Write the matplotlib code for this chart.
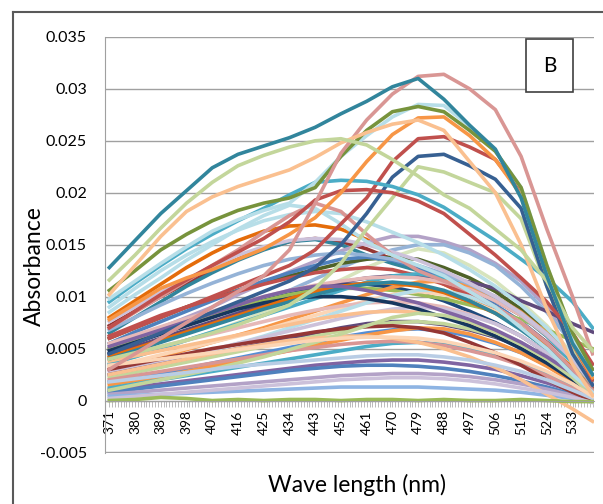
import matplotlib
matplotlib.use("Agg")
import matplotlib.pyplot as plt
from matplotlib.lines import Line2D
from matplotlib.patches import Rectangle
import numpy as np

plt.rcParams['font.family'] = ['Lato', 'DejaVu Sans']

# wavelength sample points (nm)
wavelength = [371, 380, 389, 398, 407, 416, 425, 434, 443, 452,
              461, 470, 479, 488, 497, 506, 515, 524, 533, 540]

x_tick_values = [371, 380, 389, 398, 407, 416, 425, 434, 443, 452,
                 461, 470, 479, 488, 497, 506, 515, 524, 533]
y_tick_values = [-0.005, 0, 0.005, 0.01, 0.015, 0.02, 0.025, 0.03, 0.035]
y_tick_labels = ['-0.005', '0', '0.005', '0.01', '0.015', '0.02', '0.025', '0.03', '0.035']

# absorbance x 1000, lower spectra first
s01 = [7.2, 8.6, 10.0, 11.3, 12.5, 13.6, 14.6, 15.3, 15.6, 15.3, 14.6, 13.6, 12.8, 11.8, 10.8, 9.6, 8.2, 6.2, 3.8, 1.8]
s02 = [8.0, 9.6, 11.2, 12.8, 14.2, 15.4, 16.3, 16.8, 16.9, 16.5, 15.5, 14.0, 12.5, 11.2, 10.0, 8.8, 7.2, 5.2, 3.0, 1.2]
s03 = [6.5, 8.0, 9.5, 11.0, 12.3, 13.5, 14.5, 15.3, 15.5, 15.0, 14.0, 13.2, 12.5, 11.5, 10.2, 9.0, 7.5, 5.5, 3.2, 1.5]
s04 = [5.0, 6.0, 7.0, 8.0, 9.0, 10.2, 11.3, 12.4, 13.4, 14.4, 15.2, 15.8, 15.8, 15.3, 14.5, 13.2, 11.5, 9.0, 6.0, 3.0]
s05 = [4.2, 5.0, 5.8, 6.6, 7.5, 8.5, 9.5, 10.6, 11.7, 12.8, 13.8, 14.5, 15.0, 15.0, 14.2, 13.0, 11.0, 8.5, 5.5, 2.5]
s06 = [3.5, 4.2, 5.0, 5.8, 6.6, 7.5, 8.5, 9.5, 10.5, 11.6, 12.8, 13.8, 14.6, 14.2, 13.0, 11.5, 9.5, 7.2, 4.5, 1.8]
s07 = [6.0, 7.0, 8.0, 9.0, 9.8, 10.6, 11.4, 12.0, 12.6, 13.2, 13.6, 13.8, 13.6, 12.8, 11.8, 10.5, 8.8, 6.8, 4.2, 1.8]
s08 = [5.5, 6.6, 7.6, 8.6, 9.6, 10.6, 11.5, 12.3, 13.0, 13.6, 13.8, 13.5, 12.8, 11.8, 10.6, 9.2, 7.6, 5.6, 3.4, 1.4]
s09 = [6.2, 7.2, 8.2, 9.0, 9.8, 10.5, 11.2, 11.8, 12.3, 12.6, 12.8, 12.6, 12.0, 11.2, 10.2, 9.0, 7.5, 5.6, 3.4, 1.2]
s10 = [4.5, 5.5, 6.5, 7.4, 8.2, 9.0, 9.8, 10.4, 10.9, 11.2, 11.2, 10.9, 10.4, 9.6, 8.6, 7.5, 6.2, 4.6, 2.8, 1.0]
s11 = [4.5, 5.2, 6.0, 6.8, 7.6, 8.4, 9.2, 10.0, 10.8, 11.4, 11.8, 12.0, 12.0, 11.8, 11.4, 10.8, 9.6, 8.6, 7.4, 6.6]
s12 = [5.0, 5.8, 6.6, 7.4, 8.2, 9.0, 9.6, 10.2, 10.6, 10.8, 10.8, 10.6, 10.2, 9.8, 9.2, 8.6, 7.8, 6.8, 5.8, 5.0]
s13 = [3.5, 4.2, 5.0, 5.8, 6.6, 7.4, 8.2, 9.0, 9.8, 10.6, 11.4, 12.0, 12.2, 11.8, 11.0, 9.8, 8.2, 6.2, 3.6, 1.5]
s14 = [3.0, 3.6, 4.2, 4.9, 5.6, 6.3, 7.0, 7.8, 8.6, 9.4, 10.2, 10.9, 11.4, 11.5, 11.0, 10.0, 8.5, 6.5, 4.0, 1.5]
s15 = [3.2, 3.8, 4.4, 5.0, 5.6, 6.2, 6.8, 7.5, 8.2, 8.9, 9.6, 10.2, 10.5, 10.2, 9.6, 8.6, 7.2, 5.4, 3.2, 1.0]
s16 = [4.0, 4.6, 5.2, 5.8, 6.4, 7.0, 7.6, 8.2, 8.7, 9.1, 9.4, 9.5, 9.4, 9.0, 8.3, 7.4, 6.2, 4.6, 2.8, 0.8]
s17 = [2.5, 3.0, 3.6, 4.2, 4.8, 5.5, 6.2, 7.0, 7.8, 8.6, 9.4, 10.1, 10.6, 10.6, 10.0, 9.0, 7.5, 5.5, 3.2, 1.0]
s18 = [2.8, 3.3, 3.8, 4.3, 4.9, 5.5, 6.1, 6.7, 7.3, 7.9, 8.4, 8.8, 9.0, 8.8, 8.2, 7.4, 6.2, 4.6, 2.8, 1.0]
s19 = [3.8, 4.3, 4.8, 5.3, 5.8, 6.3, 6.8, 7.3, 7.8, 8.2, 8.5, 8.6, 8.5, 8.1, 7.5, 6.6, 5.5, 4.0, 2.4, 0.8]
s20 = [2.5, 3.0, 3.5, 4.0, 4.5, 5.0, 5.5, 6.0, 6.5, 7.0, 7.4, 7.6, 7.6, 7.3, 6.8, 6.1, 5.2, 3.8, 2.2, 0.6]
s21 = [2.2, 2.7, 3.2, 3.7, 4.2, 4.7, 5.2, 5.7, 6.2, 6.7, 7.2, 7.5, 7.6, 7.4, 6.9, 6.2, 5.2, 3.8, 2.2, 0.5]
s22 = [1.8, 2.2, 2.6, 3.1, 3.6, 4.1, 4.6, 5.1, 5.6, 6.1, 6.5, 6.8, 6.9, 6.7, 6.2, 5.5, 4.6, 3.4, 2.0, 0.4]
s23 = [1.5, 1.9, 2.3, 2.8, 3.3, 3.8, 4.3, 4.8, 5.3, 5.8, 6.3, 6.7, 7.0, 6.9, 6.4, 5.6, 4.6, 3.3, 1.8, 0.4]
s24 = [1.2, 1.6, 2.0, 2.4, 2.8, 3.2, 3.6, 4.0, 4.4, 4.8, 5.2, 5.5, 5.6, 5.4, 5.0, 4.4, 3.6, 2.6, 1.4, 0.3]
s25 = [2.0, 2.4, 2.8, 3.2, 3.6, 4.0, 4.4, 4.8, 5.1, 5.4, 5.6, 5.7, 5.6, 5.3, 4.8, 4.2, 3.4, 2.4, 1.2, 0.2]
s26 = [1.0, 1.3, 1.6, 1.9, 2.2, 2.5, 2.8, 3.1, 3.4, 3.6, 3.8, 3.9, 3.9, 3.7, 3.4, 3.0, 2.4, 1.7, 0.9, 0.1]
s27 = [0.8, 1.1, 1.4, 1.7, 2.0, 2.3, 2.6, 2.9, 3.1, 3.3, 3.4, 3.4, 3.3, 3.1, 2.8, 2.4, 1.9, 1.3, 0.6, 0.0]
s28 = [0.6, 0.8, 1.0, 1.2, 1.4, 1.6, 1.8, 2.0, 2.2, 2.4, 2.5, 2.6, 2.6, 2.5, 2.3, 2.0, 1.6, 1.1, 0.5, 0.0]
s29 = [0.4, 0.5, 0.6, 0.7, 0.8, 0.9, 1.0, 1.1, 1.2, 1.3, 1.3, 1.3, 1.3, 1.2, 1.1, 1.0, 0.8, 0.5, 0.2, -0.1]
s30 = [2.5, 3.0, 3.5, 4.0, 4.5, 5.0, 5.4, 5.8, 6.0, 6.2, 6.2, 6.0, 5.6, 5.0, 4.2, 3.2, 2.0, 0.6, -0.8, -2.0]
s31 = [3.0, 3.5, 4.0, 4.5, 5.0, 5.4, 5.8, 6.2, 6.6, 6.9, 7.1, 7.2, 7.0, 6.5, 5.6, 4.6, 3.4, 2.0, 0.8, 0.0]
s32 = [4.8, 5.6, 6.4, 7.2, 8.0, 8.8, 9.4, 9.8, 10.0, 10.0, 9.8, 9.4, 8.8, 8.0, 7.2, 6.2, 5.0, 3.6, 2.0, 0.6]
s33 = [4.2, 5.0, 5.8, 6.6, 7.4, 8.2, 9.0, 9.8, 10.5, 11.0, 11.3, 11.3, 11.0, 10.4, 9.5, 8.4, 7.0, 5.2, 3.2, 1.0]
s34 = [1.0, 1.5, 2.0, 2.5, 3.0, 3.6, 4.2, 4.9, 5.6, 6.4, 7.2, 8.0, 8.4, 8.2, 7.6, 6.6, 5.4, 4.0, 2.2, 0.5]
s35 = [4.0, 4.8, 5.6, 6.4, 7.2, 8.0, 8.8, 9.5, 10.2, 10.8, 11.2, 11.4, 11.2, 10.6, 9.6, 8.4, 6.8, 5.0, 3.0, 1.0]
s36 = [5.5, 6.3, 7.1, 7.9, 8.6, 9.3, 10.0, 10.6, 11.1, 11.5, 11.8, 11.9, 11.8, 11.4, 10.7, 9.6, 8.2, 6.3, 4.0, 1.6]
s37 = [6.8, 8.0, 9.2, 10.3, 11.3, 12.2, 13.0, 13.6, 14.0, 14.2, 14.0, 13.6, 13.0, 12.2, 11.2, 10.0, 8.4, 6.4, 4.0, 1.6]
s38 = [7.6, 9.0, 10.4, 11.7, 12.9, 14.0, 14.8, 15.4, 15.6, 15.5, 15.0, 14.3, 13.5, 12.5, 11.3, 10.0, 8.4, 6.4, 4.0, 1.6]
s39 = [9.0, 10.8, 12.5, 14.0, 15.3, 16.4, 17.3, 17.9, 18.2, 18.0, 17.2, 16.2, 15.2, 14.0, 12.6, 11.0, 9.2, 7.0, 4.4, 2.0]
s40 = [5.2, 6.0, 6.8, 7.6, 8.4, 9.2, 10.0, 10.6, 11.0, 11.0, 10.6, 10.0, 9.4, 8.6, 7.8, 6.8, 5.6, 4.2, 2.6, 0.8]
s41 = [1.8, 2.1, 2.4, 2.7, 3.0, 3.3, 3.5, 3.7, 3.9, 4.1, 4.3, 4.4, 4.4, 4.2, 3.9, 3.4, 2.8, 2.0, 1.0, 0.2]
s42 = [3.4, 3.7, 4.0, 4.3, 4.6, 4.9, 5.2, 5.5, 5.8, 6.0, 6.1, 6.1, 6.0, 5.7, 5.2, 4.6, 3.8, 2.8, 1.6, 0.4]
s43 = [0.2, 0.4, 0.6, 0.8, 1.0, 1.2, 1.4, 1.6, 1.8, 2.0, 2.1, 2.2, 2.2, 2.1, 1.9, 1.6, 1.2, 0.8, 0.3, -0.2]
s44 = [0.0, 0.1, 0.3, 0.2, 0.0, 0.1, 0.0, 0.1, 0.1, 0.0, 0.1, 0.1, 0.0, 0.1, 0.0, 0.0, 0.1, 0.0, -0.1, -0.1]
# upper spectra
s45 = [7.0, 8.5, 10.0, 11.5, 13.0, 14.5, 16.2, 17.8, 19.0, 18.2, 16.0, 14.0, 12.5, 11.5, 10.5, 9.0, 7.5, 5.5, 3.0, 1.0]
s46 = [8.5, 10.2, 11.8, 13.5, 15.0, 16.5, 17.8, 18.8, 18.5, 17.0, 15.3, 14.0, 13.0, 12.0, 10.5, 9.0, 7.0, 5.0, 2.5, 0.8]
s47 = [4.0, 4.6, 5.2, 5.8, 6.5, 7.3, 8.2, 9.2, 10.8, 13.2, 16.5, 19.5, 22.5, 22.0, 21.0, 20.0, 17.5, 11.0, 5.0, 2.0]
s48 = [4.5, 5.5, 6.5, 7.5, 8.5, 9.5, 10.5, 11.5, 12.8, 15.0, 18.0, 21.5, 23.5, 23.7, 22.6, 21.3, 18.5, 11.0, 4.5, 1.5]
s49 = [6.0, 7.0, 8.0, 9.0, 10.0, 11.0, 12.0, 13.0, 14.5, 17.0, 19.5, 23.0, 25.2, 25.4, 24.4, 23.2, 20.0, 12.5, 5.5, 2.0]
s50 = [7.0, 8.6, 10.2, 11.6, 13.0, 14.3, 15.6, 17.2, 19.3, 20.2, 20.3, 20.0, 19.2, 18.0, 16.0, 14.0, 11.8, 9.5, 6.5, 3.5]
s51 = [9.5, 11.3, 13.0, 14.6, 16.0, 17.3, 18.5, 19.8, 21.0, 21.2, 21.1, 20.6, 19.8, 18.6, 17.0, 15.4, 13.6, 11.8, 9.5, 7.0]
s52 = [7.8, 9.3, 10.8, 11.8, 12.6, 13.6, 14.6, 16.0, 17.6, 20.0, 23.0, 25.6, 27.2, 27.3, 25.5, 23.2, 19.8, 12.0, 5.5, 2.2]
s53 = [9.8, 11.5, 13.2, 14.8, 16.3, 17.4, 18.3, 19.0, 21.0, 23.5, 25.5, 27.3, 28.5, 28.4, 26.4, 24.0, 20.5, 13.0, 6.0, 2.5]
s54 = [10.6, 12.5, 14.5, 16.0, 17.3, 18.3, 19.0, 19.5, 20.5, 23.5, 26.0, 27.8, 28.3, 27.8, 26.0, 24.0, 20.5, 13.0, 6.5, 3.0]
s55 = [3.0, 4.5, 6.0, 7.5, 9.0, 10.5, 12.0, 14.5, 19.0, 23.8, 27.0, 29.5, 31.2, 31.4, 30.0, 28.0, 23.5, 16.5, 10.0, 4.5]
s56 = [10.2, 13.0, 15.8, 18.2, 19.6, 20.6, 21.4, 22.2, 23.4, 24.8, 25.8, 26.6, 27.0, 26.0, 23.0, 20.0, 15.0, 8.8, 3.5, 0.5]
s57 = [11.6, 14.0, 16.6, 19.0, 21.0, 22.6, 23.6, 24.4, 25.0, 25.2, 24.6, 23.2, 21.6, 19.8, 18.5, 16.5, 14.5, 11.5, 7.0, 4.8]
s58 = [12.8, 15.4, 18.0, 20.2, 22.4, 23.7, 24.5, 25.3, 26.3, 27.6, 28.8, 30.2, 31.0, 29.0, 26.5, 24.2, 19.5, 12.0, 5.5, 2.5]

spectra = [s01, s02, s03, s04, s05, s06, s07, s08, s09, s10, s11, s12, s13, s14,
           s15, s16, s17, s18, s19, s20, s21, s22, s23, s24, s25, s26, s27, s28,
           s29, s30, s31, s32, s33, s34, s35, s36, s37, s38, s39, s40, s41, s42,
           s43, s44, s45, s46, s47, s48, s49, s50, s51, s52, s53, s54, s55, s56,
           s57, s58]

colors = ['#953735', '#e46c0a', '#31859c', '#b3a2c7', '#95b3d7', '#d7e4bd', '#4f6228',
          '#4f81bd', '#c0504d', '#1f497d', '#604a7b', '#9bbb59', '#4bacc6', '#f79646',
          '#fcd5b5', '#e6b9b8', '#b7dee8', '#ccc1da', '#fabf8f', '#5f497a', '#c3d69b',
          '#558ed5', '#f79646', '#4bacc6', '#d99694', '#8064a2', '#4f81bd', '#b3a2c7',
          '#8eb4e3', '#fac090', '#953735', '#17375e', '#e46c0a', '#c3d69b', '#31859c',
          '#e6b9b8', '#95b3d7', '#ccc1da', '#b7dee8', '#8064a2', '#b9cde5', '#fcd5b5',
          '#ccc1da', '#9bbb59',
          '#d99694', '#b7dee8', '#c3d69b', '#376092', '#c0504d', '#c0504d', '#4bacc6',
          '#f79646', '#b7dee8', '#77933c', '#d99694', '#fac090', '#c3d69b', '#31859c']

fig = plt.figure(figsize=(6.03, 5.04), dpi=100)
ax = fig.add_axes([105 / 603, 1 - 452.7 / 504, (594 - 105) / 603, (452.7 - 36.7) / 504])

for vals, c in zip(spectra, colors):
    ax.plot(wavelength, np.array(vals) / 1000, color=c, lw=2.6, solid_joinstyle='round')

ax.set_xlim(369.5, 540.5)
ax.set_ylim(-0.00502, 0.03502)

ax.set_yticks(y_tick_values)
ax.set_yticklabels(y_tick_labels, fontsize=11.5)
ax.set_xticks(x_tick_values)
ax.set_xticks(range(371, 541), minor=True)
ax.set_xticklabels([str(v) for v in x_tick_values], fontsize=11)
ax.tick_params(axis='x', which='both', length=4, color='#b0b0b0', width=0.6)
ax.tick_params(axis='x', labelrotation=90, pad=3)
ax.tick_params(axis='y', length=0, pad=13)

ax.yaxis.grid(True, color='#a0a0a0', lw=1.0)
ax.set_axisbelow(True)
for side in ['top', 'right']:
    ax.spines[side].set_visible(False)
ax.spines['left'].set_color('#a0a0a0')
ax.spines['bottom'].set_position(('data', 0))
ax.spines['bottom'].set_color('#a0a0a0')

fig.text(34.6 / 603, 1 - 266 / 504, 'Absorbance', rotation=90, fontsize=16.5,
         ha='center', va='center')
fig.text(356.7 / 603, 1 - 485 / 504, 'Wave length (nm)', fontsize=16.5,
         ha='center', va='center')

# "B" panel tag
fig.add_artist(Rectangle((525.7 / 603, 1 - 92 / 504), 47.6 / 603, 52.7 / 504,
                         transform=fig.transFigure, facecolor='white',
                         edgecolor='#404040', lw=1.2))
fig.text(549.5 / 603, 1 - 65.7 / 504, 'B', fontsize=15, ha='center', va='center')

# outer chart border
fig.add_artist(Line2D([13 / 603, 13 / 603], [0, 1 - 12 / 504], transform=fig.transFigure,
                      color='#595959', lw=1.5))
fig.add_artist(Line2D([13 / 603, 1], [1 - 12 / 504, 1 - 12 / 504], transform=fig.transFigure,
                      color='#595959', lw=1.5))

fig.savefig('out.png', dpi=100, facecolor='white')
